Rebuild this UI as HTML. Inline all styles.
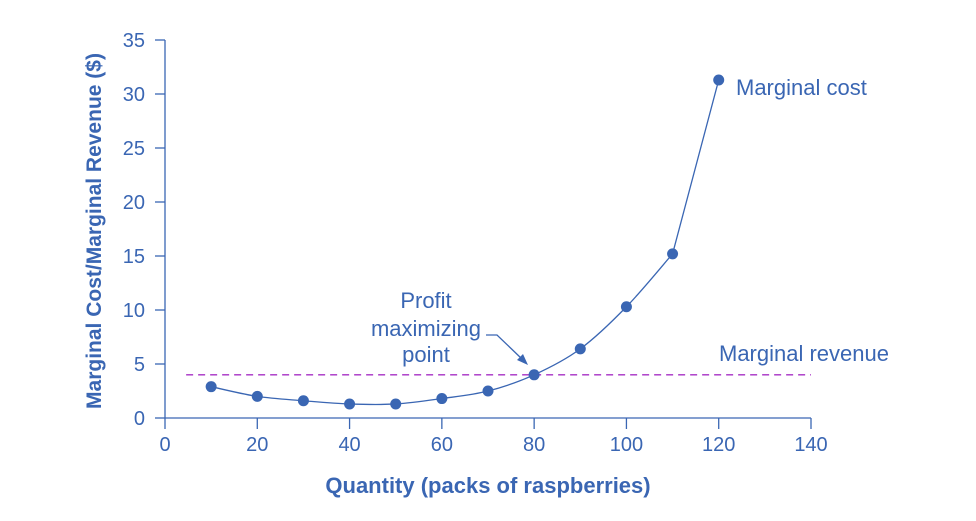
<!DOCTYPE html>
<html><head><meta charset="utf-8"><style>
body{margin:0;background:#fff;}
svg{display:block;font-family:"Liberation Sans",Arial,sans-serif;}
</style></head><body>
<svg id="chart" width="976" height="521" viewBox="0 0 976 521"></svg>
<script>
const quantities=[10,20,30,40,50,60,70,80,90,100,110,120];
const marginalCost=[2.9,2.0,1.6,1.3,1.3,1.8,2.5,4.0,6.4,10.3,15.2,31.3];
const marginalRevenue=4;
const xTicks=[0,20,40,60,80,100,120,140];
const yTicks=[0,5,10,15,20,25,30,35];
const C='#3a66b3';
const svg=document.getElementById('chart');
const NS='http://www.w3.org/2000/svg';
const X0=165,X1=811,Y0=418,Y1=40;
const xs=v=>X0+(v-0)/(140-0)*(X1-X0);
const ys=v=>Y0-(v-0)/(35-0)*(Y0-Y1);
function mk(tag,attrs,text){const e=document.createElementNS(NS,tag);for(const k in attrs)e.setAttribute(k,attrs[k]);if(text!==undefined)e.textContent=text;svg.appendChild(e);return e;}
let a=mk('line',{x1:X0,y1:Y1,x2:X0,y2:Y0,stroke:C,'stroke-width':1.3});


a=mk('line',{x1:X0,y1:Y0,x2:X1,y2:Y0,stroke:C,'stroke-width':1.3});


xTicks.forEach(t=>{
  const l=mk('line',{x1:xs(t),y1:Y0,x2:xs(t),y2:Y0+11,stroke:C,'stroke-width':1.3});
  
  
  const tx=mk('text',{x:xs(t),y:Y0+33,'text-anchor':'middle','font-size':20,fill:C},t);
  
  
});
yTicks.forEach(t=>{
  const l=mk('line',{x1:X0-10,y1:ys(t),x2:X0,y2:ys(t),stroke:C,'stroke-width':1.3});
  
  
  const tx=mk('text',{x:X0-20,y:ys(t)+7,'text-anchor':'end','font-size':20,fill:C},t);
  
  
});
let t=mk('text',{x:488,y:493,'text-anchor':'middle','font-size':22,'font-weight':'bold',fill:C},'Quantity (packs of raspberries)');


t=mk('text',{x:0,y:0,transform:'translate(101,231) rotate(-90)','text-anchor':'middle','font-size':21,'font-weight':'bold',fill:C},'Marginal Cost/Marginal Revenue ($)');


let mr=mk('line',{x1:xs(10)-25,y1:ys(marginalRevenue),x2:X1,y2:ys(marginalRevenue),stroke:'#a62fc4','stroke-width':1.3,'stroke-dasharray':'7,5'});


const P=quantities.map((q,i)=>[xs(q),ys(marginalCost[i])]);
const n=P.length-1;
let d='M'+P[0][0]+','+P[0][1];
for(let i=0;i<n-1;i++){
  const p0=P[Math.max(i-1,0)],p1=P[i],p2=P[i+1],p3=P[Math.min(i+2,n-1)];
  const c1=[p1[0]+(p2[0]-p0[0])/6,p1[1]+(p2[1]-p0[1])/6];
  const c2=[p2[0]-(p3[0]-p1[0])/6,p2[1]-(p3[1]-p1[1])/6];
  d+=' C'+c1+' '+c2+' '+p2;
}
d+=' L'+P[n];
let mc=mk('path',{d:d,fill:'none',stroke:C,'stroke-width':1.3});


P.forEach(p=>{
  const c=mk('circle',{cx:p[0],cy:p[1],r:5.5,fill:C});
  
  
});
t=mk('text',{x:736,y:95,'font-size':22,fill:C},'Marginal cost');


t=mk('text',{x:719,y:361,'font-size':22,fill:C},'Marginal revenue');


const ann=[['Profit',308],['maximizing',336],['point',362]];
ann.forEach(([s,y])=>{
  const e=mk('text',{x:426,y:y,'text-anchor':'middle','font-size':22,fill:C},s);
  
  
});
let ar=mk('path',{d:'M486,335 L497,335 L522,359',fill:'none',stroke:C,'stroke-width':1.3});


let ah=mk('path',{d:'M528,365 L517,360 L523,354 Z',fill:C});


</script>
</body></html>
